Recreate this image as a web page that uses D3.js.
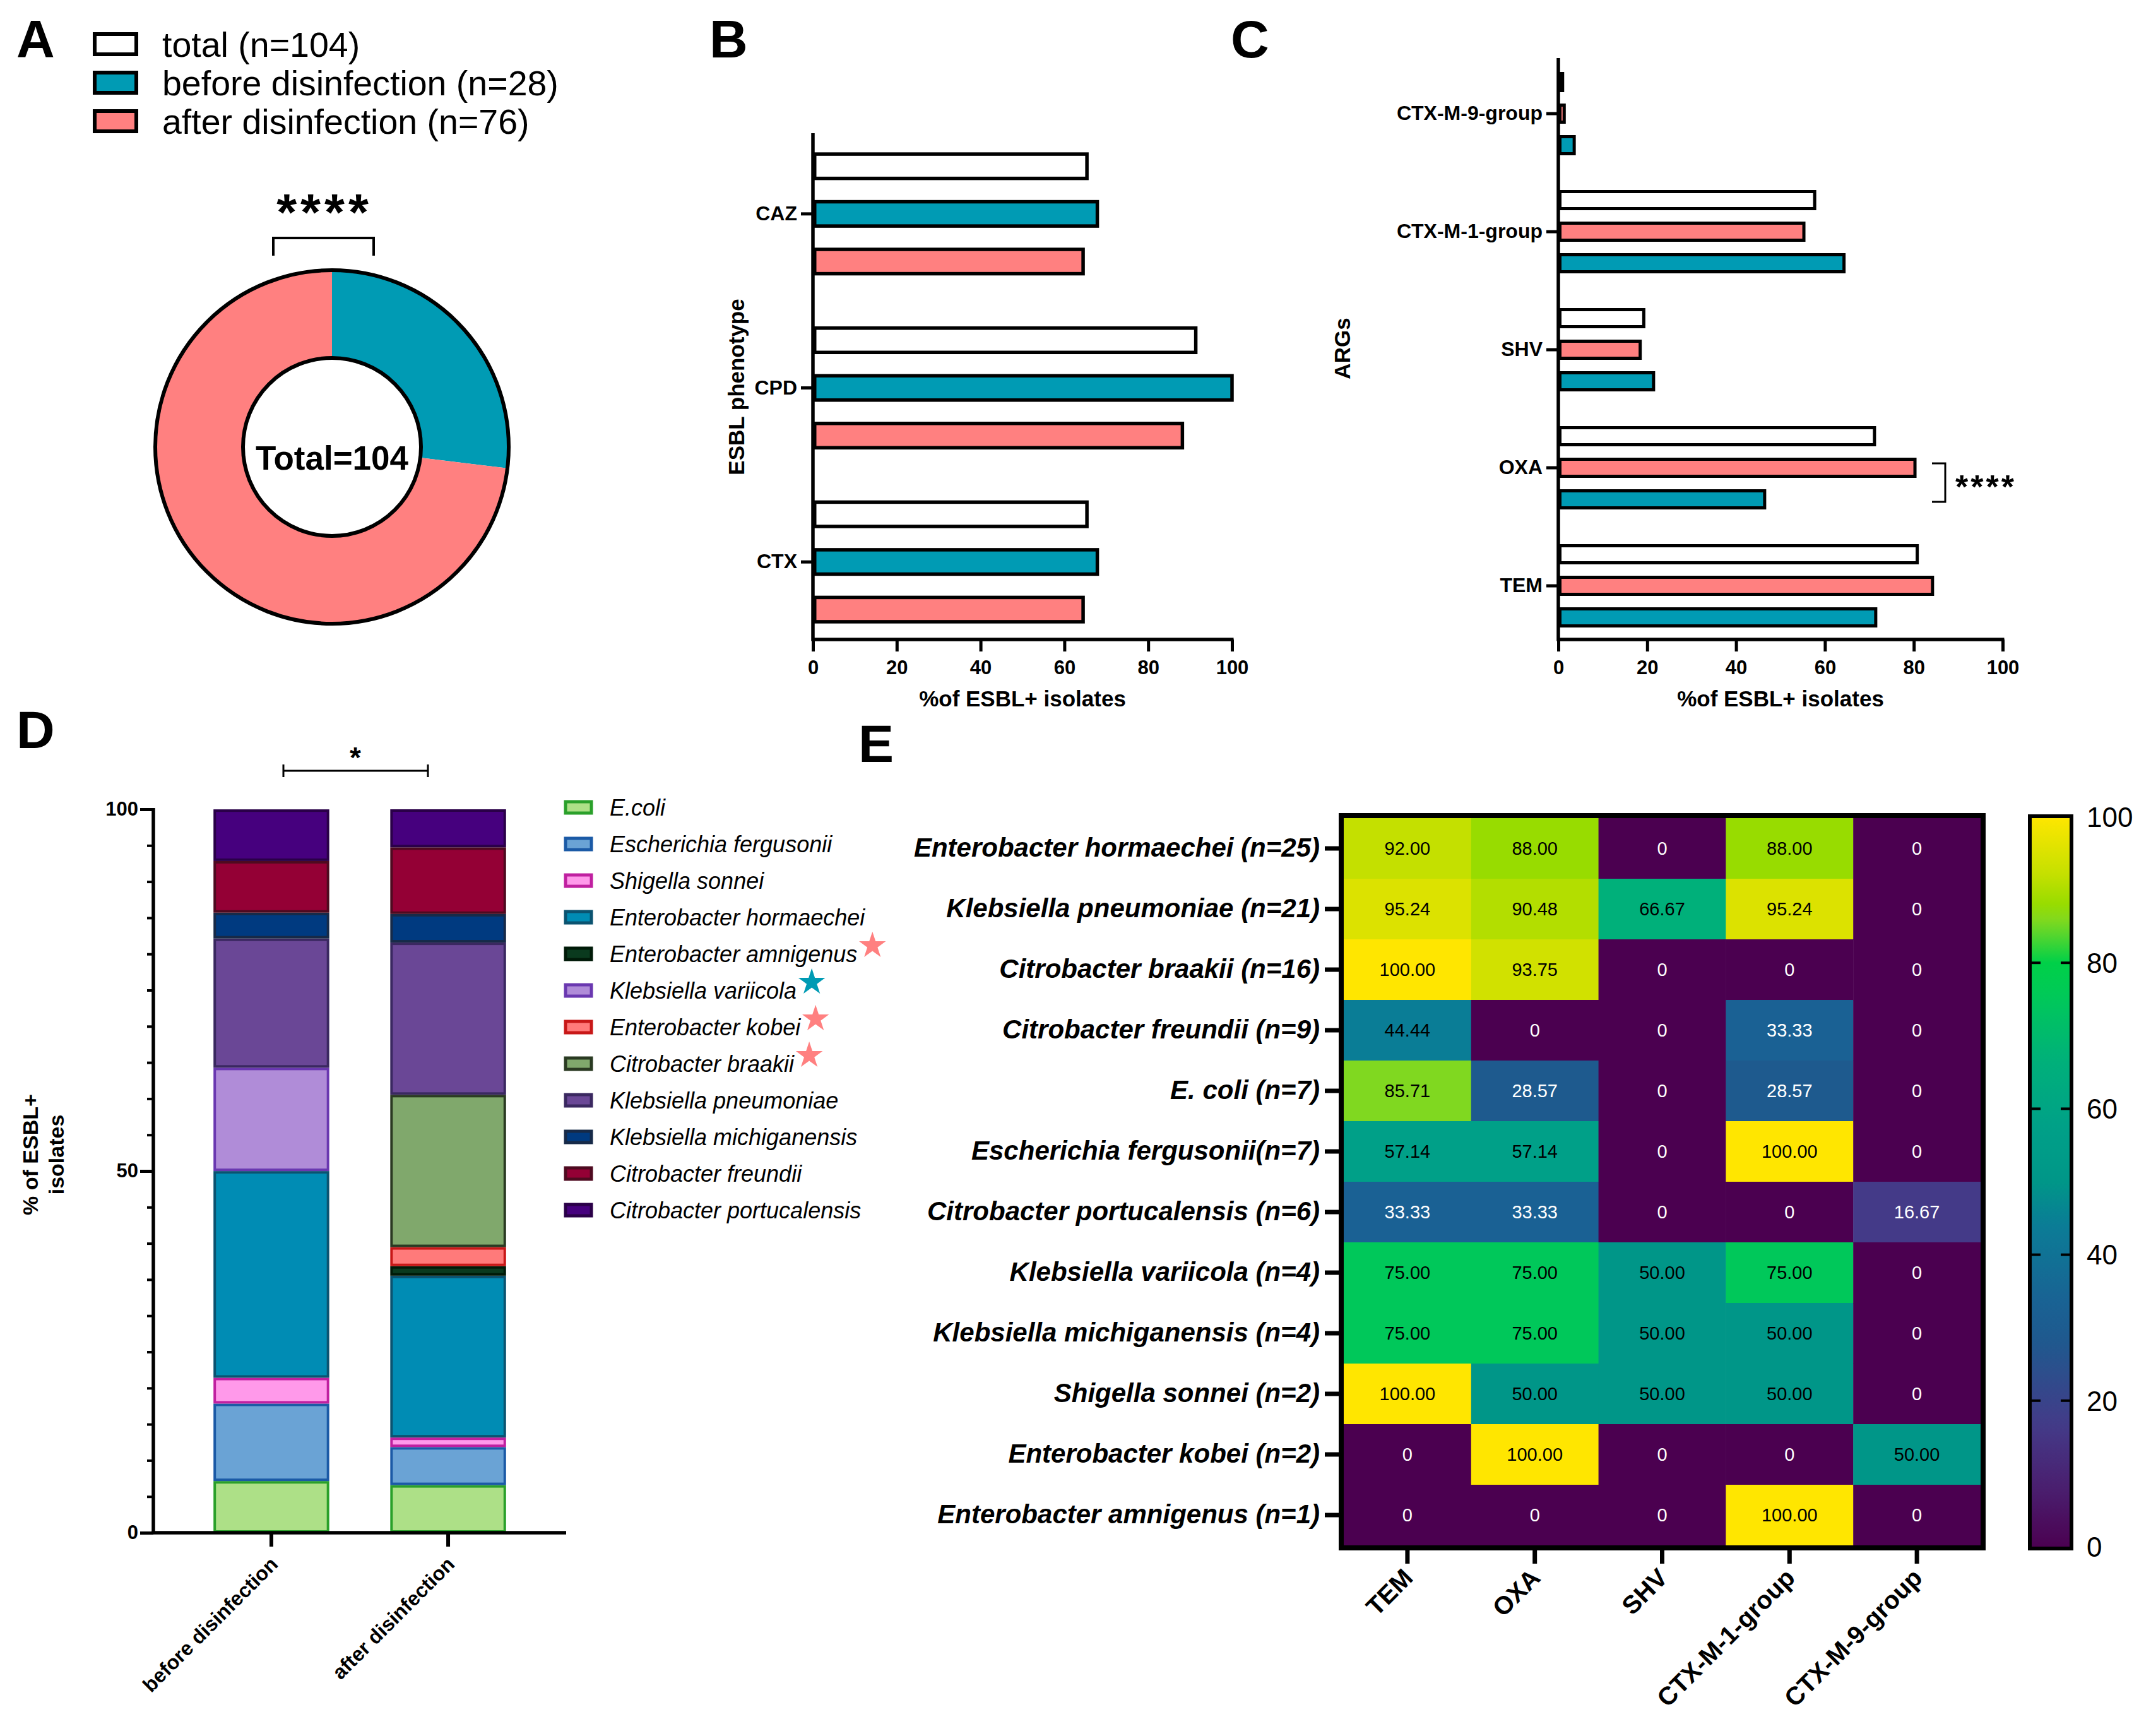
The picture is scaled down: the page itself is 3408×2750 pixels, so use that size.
<!DOCTYPE html>
<html>
<head>
<meta charset="utf-8">
<script src="https://cdn.jsdelivr.net/npm/d3@7"></script>
<style>
  body { margin: 0; background: #fff; }
  svg { display: block; }
  text { font-family: 'Liberation Sans', Arial, sans-serif; }
</style>
</head>
<body>
<svg id="fig" width="3408" height="2750"></svg>
<script>
// ---- data ----
const legendA = ['total (n=104)', 'before disinfection (n=28)', 'after disinfection (n=76)'];
const donutGroups = ['before disinfection', 'after disinfection'];
const donutCounts = [28, 76];

const phenotypes = ['CAZ', 'CPD', 'CTX'];
const phenoTotal = [65.38, 91.35, 65.38];
const phenoBefore = [67.86, 100, 67.86];
const phenoAfter = [64.47, 88.16, 64.47];

const argNames = ['CTX-M-9-group', 'CTX-M-1-group', 'SHV', 'OXA', 'TEM'];
const argTotal = [0.96, 57.69, 19.23, 71.15, 80.77];
const argAfter = [1.32, 55.26, 18.42, 80.26, 84.21];
const argBefore = [3.57, 64.29, 21.43, 46.43, 71.43];

const species = ['E.coli', 'Escherichia fergusonii', 'Shigella sonnei', 'Enterobacter hormaechei',
  'Enterobacter amnigenus', 'Klebsiella variicola', 'Enterobacter kobei', 'Citrobacter braakii',
  'Klebsiella pneumoniae', 'Klebsiella michiganensis', 'Citrobacter freundii', 'Citrobacter portucalensis'];
const beforePct = [7.14, 10.71, 3.57, 28.57, 0, 14.29, 0, 0, 17.86, 3.57, 7.14, 7.14];
const afterPct = [6.58, 5.26, 1.32, 22.37, 1.32, 0, 2.63, 21.05, 21.05, 3.95, 9.21, 5.26];
const onlyIn = ['', '', '', '', 'after', 'before', 'after', 'after', '', '', '', ''];

const heatRows = ['Enterobacter hormaechei (n=25)', 'Klebsiella pneumoniae (n=21)', 'Citrobacter braakii (n=16)',
  'Citrobacter freundii (n=9)', 'E. coli (n=7)', 'Escherichia fergusonii(n=7)', 'Citrobacter portucalensis (n=6)',
  'Klebsiella variicola (n=4)', 'Klebsiella michiganensis (n=4)', 'Shigella sonnei (n=2)',
  'Enterobacter kobei (n=2)', 'Enterobacter amnigenus (n=1)'];
const heatCols = ['TEM', 'OXA', 'SHV', 'CTX-M-1-group', 'CTX-M-9-group'];
const heatValues = [
  [92.00, 88.00, 0, 88.00, 0],
  [95.24, 90.48, 66.67, 95.24, 0],
  [100.00, 93.75, 0, 0, 0],
  [44.44, 0, 0, 33.33, 0],
  [85.71, 28.57, 0, 28.57, 0],
  [57.14, 57.14, 0, 100.00, 0],
  [33.33, 33.33, 0, 0, 16.67],
  [75.00, 75.00, 50.00, 75.00, 0],
  [75.00, 75.00, 50.00, 50.00, 0],
  [100.00, 50.00, 50.00, 50.00, 0],
  [0, 100.00, 0, 0, 50.00],
  [0, 0, 0, 100.00, 0]
];
const pctTicks = [0, 20, 40, 60, 80, 100];

// ---- styles ----
const TEAL = '#009bb4', PINK = '#ff8080';
const speciesFill = ['#ade087', '#6aa3d5', '#ff99ea', '#008cb4', '#0a3a1e', '#b08cd8',
  '#ff7a7a', '#80a86c', '#6a4796', '#003a80', '#940035', '#46007e'];
const speciesStroke = ['#2aa02a', '#1b5aa6', '#c020a0', '#0b5370', '#001a08', '#6a38b0',
  '#c81818', '#2a3a22', '#3a2860', '#172a48', '#4e0a20', '#2a0048'];

const svg = d3.select('#fig');

function styleAxis(g, sw, size, weight, style) {
  g.selectAll('.tick line').attr('stroke', '#000').attr('stroke-width', sw);
  g.selectAll('.tick text').attr('fill', '#000').style('font-size', size + 'px')
    .style('font-weight', weight).style('font-style', style || 'normal')
    .style('font-family', "'Liberation Sans', Arial, sans-serif");
  g.select('.domain').remove();
}

// panel letters
[['A', 26, 91], ['B', 1124, 91], ['C', 1950, 91], ['D', 26, 1185], ['E', 1360, 1207]].forEach(([t, x, y]) => {
  svg.append('text').attr('x', x).attr('y', y).text(t)
    .style('font-size', '84px').style('font-weight', 'bold');
});

// ---- Panel A ----
const legA = svg.append('g');
legendA.forEach((t, i) => {
  const y = 70 + i * 61;
  legA.append('rect').attr('x', 150).attr('y', y - 16).attr('width', 66).attr('height', 32)
    .attr('fill', ['#fff', TEAL, PINK][i]).attr('stroke', '#000').attr('stroke-width', 6);
  legA.append('text').attr('x', 257).attr('y', y).attr('dy', '0.36em').text(t)
    .style('font-size', '55.5px');
});

const donut = svg.append('g').attr('transform', 'translate(526,708)');
const pie = d3.pie().sort(null)(donutCounts);
const arc = d3.arc().innerRadius(141).outerRadius(280);
donut.selectAll('path').data(pie).join('path')
  .attr('d', arc).attr('fill', (d, i) => [TEAL, PINK][i]);
[280, 141].forEach(r => donut.append('circle').attr('r', r)
  .attr('fill', 'none').attr('stroke', '#000').attr('stroke-width', 6));
donut.append('text').attr('y', 36).attr('text-anchor', 'middle').text('Total=' + d3.sum(donutCounts))
  .style('font-size', '53px').style('font-weight', 'bold');

svg.append('path').attr('d', 'M433,405V377H592V405').attr('fill', 'none')
  .attr('stroke', '#000').attr('stroke-width', 4);
svg.append('text').attr('x', 514).attr('y', 364).attr('text-anchor', 'middle').text('****')
  .style('font-size', '82px').style('font-weight', 'bold').style('letter-spacing', '6px');

// ---- horizontal grouped bars (B and C) ----
function hbars(opt) {
  const g = svg.append('g');
  const x = d3.scaleLinear().domain([0, 100]).range([opt.x0, opt.x1]);
  const y = d3.scaleBand().domain(opt.cats).range(opt.band);
  const sub = d3.scaleBand().domain(opt.series.map(s => s.key)).range([-opt.half, opt.half]).paddingInner(opt.pad);
  const sw = opt.sw;
  opt.series.forEach(s => {
    g.append('g').selectAll('rect').data(s.values).join('rect')
      .attr('x', x(0) + sw / 2)
      .attr('y', (v, i) => y(opt.cats[i]) + y.bandwidth() / 2 + sub(s.key) + sw / 2)
      .attr('width', v => Math.max(0, x(v) - x(0) - sw / 2))
      .attr('height', sub.bandwidth() - sw)
      .attr('fill', s.color).attr('stroke', '#000').attr('stroke-width', sw);
  });
  const ax = g.append('g').attr('transform', `translate(0,${opt.yb})`)
    .call(d3.axisBottom(x).tickValues(pctTicks).tickSize(19).tickPadding(14).tickSizeOuter(0));
  styleAxis(ax, 5, 31, 'bold');
  const ay = g.append('g').attr('transform', `translate(${opt.x0},0)`)
    .call(d3.axisLeft(y).tickSize(19).tickPadding(6).tickSizeOuter(0));
  styleAxis(ay, 5, 32, 'bold');
  g.append('line').attr('x1', opt.x0).attr('x2', opt.x0).attr('y1', opt.ytop).attr('y2', opt.yb + 2.5)
    .attr('stroke', '#000').attr('stroke-width', 5.5);
  g.append('line').attr('x1', opt.x0).attr('x2', opt.x1 + 2.5).attr('y1', opt.yb).attr('y2', opt.yb)
    .attr('stroke', '#000').attr('stroke-width', 5.5);
  g.append('text').attr('x', (opt.x0 + opt.x1) / 2).attr('y', opt.yb + 106).attr('text-anchor', 'middle')
    .text('%of ESBL+ isolates').style('font-size', '35px').style('font-weight', 'bold');
  g.append('text').attr('transform', `translate(${opt.ytx},${opt.yty}) rotate(-90)`)
    .attr('text-anchor', 'middle').attr('dy', '0.36em').text(opt.ytitle)
    .style('font-size', '35px').style('font-weight', 'bold');
  return { g, x, y, sub };
}

hbars({
  x0: 1288, x1: 1952, yb: 1013, ytop: 211, cats: phenotypes, band: [201, 1028],
  half: 97.5, pad: 0.417, sw: 5.5, ytx: 1166, yty: 613, ytitle: 'ESBL phenotype',
  series: [{ key: 'total', values: phenoTotal, color: '#fff' },
           { key: 'before', values: phenoBefore, color: TEAL },
           { key: 'after', values: phenoAfter, color: PINK }]
});

const C = hbars({
  x0: 2469, x1: 3173, yb: 1013, ytop: 92, cats: argNames, band: [86.5, 1021.5],
  half: 66, pad: 0.36, sw: 5, ytx: 2126, yty: 552, ytitle: 'ARGs',
  series: [{ key: 'total', values: argTotal, color: '#fff' },
           { key: 'after', values: argAfter, color: PINK },
           { key: 'before', values: argBefore, color: TEAL }]
});
{
  const cy = C.y('OXA') + C.y.bandwidth() / 2;
  const ya = cy + C.sub('after') + C.sub.bandwidth() / 2 - 7;
  const yb = cy + C.sub('before') + C.sub.bandwidth() / 2 + 4;
  svg.append('path').attr('d', `M3061,${ya}H3082V${yb}H3061`).attr('fill', 'none')
    .attr('stroke', '#000').attr('stroke-width', 3);
  svg.append('text').attr('x', 3098).attr('y', (ya + yb) / 2 + 24).text('****')
    .style('font-size', '52px').style('font-weight', 'bold').style('letter-spacing', '4px');
}

// ---- Panel D: stacked bars ----
const D = svg.append('g');
const xD = d3.scaleBand().domain(donutGroups).range([243, 897]).paddingInner(0.345).paddingOuter(0.34);
const yD = d3.scaleLinear().domain([0, 100]).range([2428, 1282]);
const table = donutGroups.map((grp, j) => {
  const row = { group: grp };
  species.forEach((s, i) => { row[s] = (j === 0 ? beforePct : afterPct)[i]; });
  return row;
});
const layers = d3.stack().keys(species)(table);
const sD = 4;
layers.forEach((layer, i) => {
  D.append('g').selectAll('rect').data(layer.filter(d => d[1] - d[0] > 0)).join('rect')
    .attr('x', d => xD(d.data.group) + sD / 2)
    .attr('y', d => yD(d[1]) + sD / 2)
    .attr('width', xD.bandwidth() - sD)
    .attr('height', d => Math.max(0.5, yD(d[0]) - yD(d[1]) - sD))
    .attr('fill', speciesFill[i]).attr('stroke', speciesStroke[i]).attr('stroke-width', sD);
});
const ayD = D.append('g').attr('transform', 'translate(243,0)')
  .call(d3.axisLeft(yD).tickValues([0, 50, 100]).tickSize(21).tickPadding(3));
styleAxis(ayD, 5, 31, 'bold');
D.append('g').attr('transform', 'translate(243,0)')
  .call(d3.axisLeft(yD).tickValues(d3.range(5, 100, 5).filter(v => v !== 50)).tickSize(10).tickFormat(''))
  .call(g => { g.select('.domain').remove(); g.selectAll('line').attr('stroke-width', 4); });
D.append('line').attr('x1', 243).attr('x2', 243).attr('y1', 1280).attr('y2', 2430)
  .attr('stroke', '#000').attr('stroke-width', 5.5);
D.append('line').attr('x1', 240).attr('x2', 897).attr('y1', 2428).attr('y2', 2428)
  .attr('stroke', '#000').attr('stroke-width', 5.5);
const axD = D.append('g').attr('transform', 'translate(0,2428)')
  .call(d3.axisBottom(xD).tickSize(22).tickFormat(''));
styleAxis(axD, 6, 29, 'bold');
donutGroups.forEach(grp => {
  const cx = xD(grp) + xD.bandwidth() / 2;
  D.append('text').attr('transform', `translate(${cx + 12},${2480}) rotate(-45)`)
    .attr('text-anchor', 'end').text(grp).style('font-size', '32px').style('font-weight', 'bold');
});
D.append('text').attr('transform', 'translate(67,1829) rotate(-90)').attr('text-anchor', 'middle')
  .style('font-size', '34px').style('font-weight', 'bold')
  .call(t => {
    t.append('tspan').attr('x', 0).attr('dy', '-0.2em').text('% of ESBL+');
    t.append('tspan').attr('x', 0).attr('dy', '1.2em').text('isolates');
  });
D.append('path').attr('d', 'M449,1211V1231M449,1221H678M678,1211V1231').attr('fill', 'none')
  .attr('stroke', '#000').attr('stroke-width', 3);
D.append('text').attr('x', 563).attr('y', 1216).attr('text-anchor', 'middle').text('*')
  .style('font-size', '46px').style('font-weight', 'bold');

// legend D
const legD = D.append('g');
species.forEach((s, i) => {
  const y = 1279 + i * 58;
  legD.append('rect').attr('x', 896).attr('y', y - 9).attr('width', 41).attr('height', 18)
    .attr('fill', speciesFill[i]).attr('stroke', speciesStroke[i]).attr('stroke-width', 5);
  const t = legD.append('text').attr('x', 966).attr('y', y).attr('dy', '0.36em').text(s)
    .style('font-size', '36px').style('font-style', 'italic');
  if (onlyIn[i]) {
    const end = 966 + t.node().getComputedTextLength();
    legD.append('path').attr('d', d3.symbol(d3.symbolStar, 560)())
      .attr('transform', `translate(${end + 24},${y - 13})`)
      .attr('fill', onlyIn[i] === 'after' ? PINK : TEAL);
  }
});

// ---- Panel E: heatmap ----
const E = svg.append('g');
const heatColor = d3.scaleLinear()
  .domain([0, 8, 16.67, 28.57, 33.33, 44.44, 50, 57.14, 66.67, 75, 80, 85.71, 88, 92, 100])
  .range(['#4b0050', '#4a1e6e', '#443a88', '#1e5a8e', '#1a6194', '#0a7d96', '#009688', '#00a088',
          '#00b07a', '#00c85a', '#00d048', '#80d820', '#98dc00', '#c4e000', '#ffe600']);
const xE = d3.scaleBand().domain(heatCols).range([2129, 3138]);
const yE = d3.scaleBand().domain(heatRows).range([1296, 2448]);
const cells = [];
heatValues.forEach((row, i) => row.forEach((v, j) => cells.push({ r: heatRows[i], c: heatCols[j], v })));
E.append('g').selectAll('rect').data(cells).join('rect')
  .attr('x', d => xE(d.c)).attr('y', d => yE(d.r))
  .attr('width', xE.bandwidth() + 0.5).attr('height', yE.bandwidth() + 0.5)
  .attr('fill', d => heatColor(d.v));
E.append('g').selectAll('text').data(cells).join('text')
  .attr('x', d => xE(d.c) + xE.bandwidth() / 2).attr('y', d => yE(d.r) + yE.bandwidth() / 2)
  .attr('dy', '0.36em').attr('text-anchor', 'middle')
  .attr('fill', d => d.v >= 40 ? '#000' : '#fff')
  .text(d => d.v === 0 ? '0' : d3.format('.2f')(d.v))
  .style('font-size', '29px');
E.append('rect').attr('x', 2125).attr('y', 1292).attr('width', 1017).attr('height', 1160)
  .attr('fill', 'none').attr('stroke', '#000').attr('stroke-width', 8);
const ayE = E.append('g').attr('transform', 'translate(2121,0)')
  .call(d3.axisLeft(yE).tickSize(22).tickPadding(8));
styleAxis(ayE, 7, 42, 'bold', 'italic');
const axE = E.append('g').attr('transform', 'translate(0,2452)')
  .call(d3.axisBottom(xE).tickSize(25).tickFormat(''));
styleAxis(axE, 7, 40, 'bold');
heatCols.forEach(c => {
  const cx = xE(c) + xE.bandwidth() / 2;
  E.append('text').attr('transform', `translate(${cx + 11},2502) rotate(-45)`)
    .attr('text-anchor', 'end').text(c).style('font-size', '40px').style('font-weight', 'bold');
});

// colour bar
const defs = svg.append('defs');
const grad = defs.append('linearGradient').attr('id', 'cbar')
  .attr('x1', 0).attr('y1', 1).attr('x2', 0).attr('y2', 0);
d3.range(0, 101, 2).forEach(v => grad.append('stop').attr('offset', v + '%').attr('stop-color', heatColor(v)));
const yCB = d3.scaleLinear().domain([0, 100]).range([2450, 1294]);
E.append('rect').attr('x', 3216).attr('y', 1293).attr('width', 66).attr('height', 1160)
  .attr('fill', 'url(#cbar)').attr('stroke', '#000').attr('stroke-width', 6);
pctTicks.filter(v => v > 0 && v < 100).forEach(v => {
  E.append('line').attr('x1', 3219).attr('x2', 3233).attr('y1', yCB(v)).attr('y2', yCB(v))
    .attr('stroke', '#000').attr('stroke-width', 4);
  E.append('line').attr('x1', 3265).attr('x2', 3279).attr('y1', yCB(v)).attr('y2', yCB(v))
    .attr('stroke', '#000').attr('stroke-width', 4);
});
E.append('g').selectAll('text').data(pctTicks).join('text')
  .attr('x', 3306).attr('y', v => yCB(v)).attr('dy', '0.36em').text(v => v)
  .style('font-size', '44px');
</script>
</body>
</html>
